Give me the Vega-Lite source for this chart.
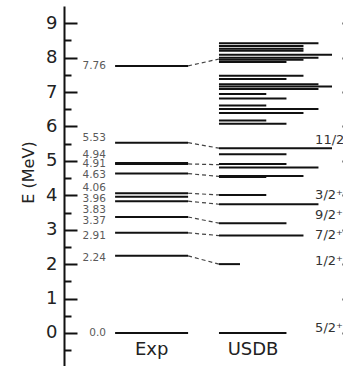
{
  "$schema": "https://vega.github.io/schema/vega-lite/v6.json",
  "autosize": "none",
  "width": 279,
  "height": 360,
  "padding": {"left": 64, "top": 6, "right": 0, "bottom": 0},
  "background": "white",
  "config": {
    "view": {"stroke": null},
    "font": "DejaVu Sans"
  },
  "datasets": {
    "exp": [
      {"E": 0.0, "label": "0.0", "label_E": 0.0},
      {"E": 2.24, "label": "2.24", "label_E": 2.17},
      {"E": 2.91, "label": "2.91", "label_E": 2.82},
      {"E": 3.37, "label": "3.37", "label_E": 3.24},
      {"E": 3.83, "label": "3.83", "label_E": 3.58},
      {"E": 3.96, "label": "3.96", "label_E": 3.89},
      {"E": 4.06, "label": "4.06", "label_E": 4.22},
      {"E": 4.63, "label": "4.63", "label_E": 4.58},
      {"E": 4.91, "label": "4.91", "label_E": 4.9},
      {"E": 4.94, "label": "4.94", "label_E": 5.18},
      {"E": 5.53, "label": "5.53", "label_E": 5.66},
      {"E": 7.76, "label": "7.76", "label_E": 7.76}
    ],
    "usdb": [
      {"E": 0.0, "twoJ": 5},
      {"E": 2.0, "twoJ": 1},
      {"E": 2.83, "twoJ": 7},
      {"E": 3.19, "twoJ": 5},
      {"E": 3.74, "twoJ": 9},
      {"E": 4.01, "twoJ": 3},
      {"E": 4.53, "twoJ": 3},
      {"E": 4.56, "twoJ": 7},
      {"E": 4.81, "twoJ": 9},
      {"E": 4.91, "twoJ": 5},
      {"E": 5.19, "twoJ": 5},
      {"E": 5.37, "twoJ": 11},
      {"E": 6.08, "twoJ": 5},
      {"E": 6.17, "twoJ": 3},
      {"E": 6.39, "twoJ": 7},
      {"E": 6.51, "twoJ": 9},
      {"E": 6.61, "twoJ": 3},
      {"E": 6.81, "twoJ": 5},
      {"E": 6.94, "twoJ": 3},
      {"E": 7.09, "twoJ": 9},
      {"E": 7.16, "twoJ": 11},
      {"E": 7.23, "twoJ": 9},
      {"E": 7.38, "twoJ": 5},
      {"E": 7.47, "twoJ": 7},
      {"E": 7.87, "twoJ": 5},
      {"E": 7.94, "twoJ": 7},
      {"E": 8.0, "twoJ": 9},
      {"E": 8.08, "twoJ": 11},
      {"E": 8.2, "twoJ": 7},
      {"E": 8.26, "twoJ": 7},
      {"E": 8.34, "twoJ": 7},
      {"E": 8.42, "twoJ": 9}
    ],
    "links": [
      {"E_exp": 2.24, "E_th": 2.0},
      {"E_exp": 2.91, "E_th": 2.83},
      {"E_exp": 3.37, "E_th": 3.19},
      {"E_exp": 3.83, "E_th": 3.74},
      {"E_exp": 4.06, "E_th": 4.01},
      {"E_exp": 4.63, "E_th": 4.55},
      {"E_exp": 4.91, "E_th": 4.89},
      {"E_exp": 5.53, "E_th": 5.37},
      {"E_exp": 7.76, "E_th": 7.96}
    ],
    "spins": [
      {"spin": "5/2⁺", "label_E": 0.15},
      {"spin": "1/2⁺", "label_E": 2.08},
      {"spin": "7/2⁺", "label_E": 2.85},
      {"spin": "9/2⁺", "label_E": 3.43},
      {"spin": "3/2⁺", "label_E": 4.01},
      {"spin": "11/2⁺", "label_E": 5.61}
    ]
  },
  "resolve": {"axis": {"y": "independent"}},
  "layer": [
    {
      "data": {"name": "exp"},
      "mark": {"type": "rule", "stroke": "#111", "strokeWidth": 2},
      "encoding": {
        "x": {
          "datum": 0.7,
          "type": "quantitative",
          "scale": {"domain": [0, 3.822], "nice": false, "zero": false},
          "axis": {"orient": "top", "ticks": false, "labels": false, "title": null, "grid": false, "domainColor": "#111", "domainWidth": 2}
        },
        "x2": {"datum": 1.7},
        "y": {
          "field": "E",
          "type": "quantitative",
          "scale": {"domain": [-0.96, 9.5], "nice": false, "zero": false},
          "axis": {
            "orient": "left",
            "title": "E (MeV)",
            "titleFont": "DejaVu Sans",
            "titleFontSize": 16,
            "titleFontWeight": "normal",
            "titleColor": "#222",
            "titlePadding": 9,
            "titleY": 166,
            "values": [-0.5, 0, 0.5, 1, 1.5, 2, 2.5, 3, 3.5, 4, 4.5, 5, 5.5, 6, 6.5, 7, 7.5, 8, 8.5, 9],
            "format": ".0f",
            "labelExpr": "datum.value % 1 === 0 ? datum.label : ''",
            "labelOverlap": false,
            "labelFont": "DejaVu Sans",
            "labelFontSize": 18,
            "labelColor": "#222",
            "labelPadding": 20,
            "tickSize": {"condition": {"test": "datum.value % 1 !== 0", "value": -7}, "value": -13},
            "tickColor": "#111",
            "tickWidth": 2,
            "domainColor": "#111",
            "domainWidth": 2,
            "grid": false
          }
        }
      }
    },
    {
      "data": {"name": "exp"},
      "mark": {"type": "text", "align": "right", "baseline": "middle", "fontSize": 10.5, "color": "#5a5a5a"},
      "encoding": {
        "x": {"datum": 0.575, "type": "quantitative", "axis": null},
        "y": {"field": "label_E", "type": "quantitative", "axis": null},
        "text": {"field": "label"}
      }
    },
    {
      "data": {"name": "links"},
      "mark": {"type": "rule", "stroke": "#444", "strokeWidth": 1.2, "strokeDash": [4, 3]},
      "encoding": {
        "x": {"datum": 1.7, "type": "quantitative", "axis": null},
        "x2": {"datum": 2.123},
        "y": {"field": "E_exp", "type": "quantitative", "axis": null},
        "y2": {"field": "E_th"}
      }
    },
    {
      "data": {"name": "usdb"},
      "transform": [
        {"calculate": "1.541 + 0.615 * sqrt(datum.twoJ + 1)", "as": "x_end"}
      ],
      "mark": {"type": "rule", "stroke": "#111", "strokeWidth": 2},
      "encoding": {
        "x": {"field": "x_end", "type": "quantitative", "axis": null},
        "x2": {"datum": 2.123},
        "y": {
          "field": "E",
          "type": "quantitative",
          "axis": {
            "orient": "right",
            "offset": 12,
            "values": [0, 1, 2, 3, 4, 5, 6, 7, 8, 9],
            "labels": false,
            "title": null,
            "domain": false,
            "grid": false,
            "tickSize": -13,
            "tickColor": "#111",
            "tickWidth": 2
          }
        }
      }
    },
    {
      "data": {"name": "spins"},
      "mark": {"type": "text", "align": "left", "baseline": "middle", "fontSize": 13, "color": "#333"},
      "encoding": {
        "x": {"datum": 3.44, "type": "quantitative", "axis": null},
        "y": {"field": "label_E", "type": "quantitative", "axis": null},
        "text": {"field": "spin"}
      }
    },
    {
      "data": {"values": [{"column": "Exp"}]},
      "mark": {"type": "text", "align": "center", "baseline": "alphabetic", "fontSize": 18, "color": "#222"},
      "encoding": {
        "x": {"datum": 1.2, "type": "quantitative", "axis": null},
        "y": {"datum": -0.65, "type": "quantitative", "axis": null},
        "text": {"field": "column"}
      }
    },
    {
      "data": {"values": [{"column": "USDB"}]},
      "mark": {"type": "text", "align": "center", "baseline": "alphabetic", "fontSize": 18, "color": "#222"},
      "encoding": {
        "x": {"datum": 2.59, "type": "quantitative", "axis": null},
        "y": {"datum": -0.65, "type": "quantitative", "axis": null},
        "text": {"field": "column"}
      }
    }
  ]
}
